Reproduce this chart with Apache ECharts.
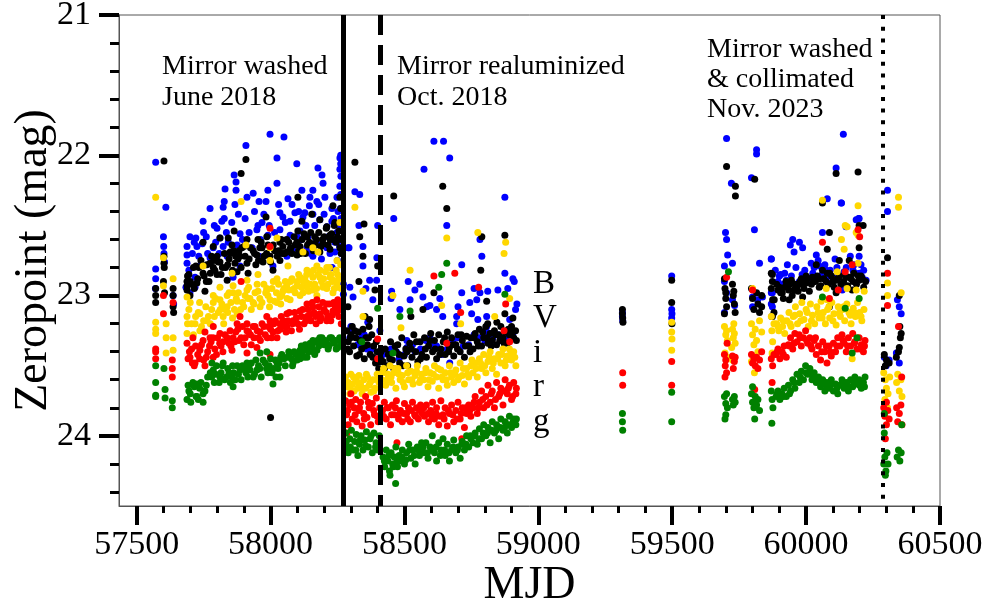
<!DOCTYPE html>
<html>
<head>
<meta charset="utf-8">
<script src="https://cdn.jsdelivr.net/npm/echarts@6/dist/echarts.min.js"></script>
<style>html,body{margin:0;padding:0;background:#fff;}#c{width:990px;height:607px;}</style>
</head>
<body>
<div id="c"></div>
<script>
// ---- Data: [MJD, zeropoint mag] per band ----
const bandNames = ['B', 'V', 'i', 'r', 'g'];
const xTicks = [57500, 58000, 58500, 59000, 59500, 60000, 60500];
const yTicks = [21, 22, 23, 24];
const eventMJD = [58270, 58408, 60286];
const notes = ['Mirror washed\nJune 2018', 'Mirror realuminized\nOct. 2018', 'Mirror washed\n& collimated\nNov. 2023'];

const dataB = [
[57571,22.05],[57571,22.81],[57571,22.88],[57570,22.95],[57600,22.58],[57601,22.65],[57602,22.7],[57609,22.37],[57604,22.76],[57636,23.0],[57638,23.06],
[57998,21.85],[58050,21.87],[57908,21.93],[58024,22.02],[58098,22.06],[58177,22.09],[58259,22.02],[57864,22.14],[58192,22.14],[57871,22.19],[58024,22.2],[58196,22.2],[58259,22.1],[57830,22.24],[57871,22.25],[57935,22.27],[57990,22.25],[58117,22.25],[58158,22.25],[58259,22.22],[57827,22.33],[57912,22.3],[57957,22.33],[57983,22.33],[58065,22.31],[58147,22.3],[58173,22.33],[58203,22.3],[58248,22.3],[57774,22.38],[57823,22.37],[57867,22.35],[58035,22.41],[58091,22.41],[58128,22.41],[58229,22.38],[57748,22.47],[57827,22.45],[57968,22.48],[58046,22.44],[58073,22.47],[58121,22.44],[58158,22.42],[58184,22.46],[58229,22.47],[57800,22.52],[57953,22.5],[58035,22.53],[58073,22.57],[58110,22.54],[58210,22.51],[57699,22.58],[57721,22.59],[57750,22.55],[57811,22.59],[57886,22.56],[57949,22.53],[57990,22.57],[58099,22.58],[58140,22.58],[58248,22.55],[57688,22.65],[57725,22.65],[57786,22.66],[57823,22.65],[57875,22.64],[57931,22.66],[58035,22.7],[58084,22.68],[58136,22.66],[58184,22.64],[58240,22.62],[57688,22.71],[57774,22.73],[57838,22.72],[57957,22.72],[58061,22.72],[58158,22.72],[58222,22.7],[57688,22.77],[57736,22.79],[57886,22.79],[58009,22.79],[57718,22.87],[57860,22.87],[57684,22.94],[57718,22.94],[57699,22.98],
[58262,22.0],[58262,22.06],[58263,22.15],[58262,22.28],[58261,22.38],[58263,22.45],[58260,22.52],[58262,22.6],[58264,22.7],[58258,22.65],[58240,22.69],[58250,22.75],[58210,22.66],[58170,22.62],[58100,22.63],[58150,22.7],[58190,22.74],[58230,22.8],[58290,22.66],[58272,22.92],[58272,22.99],
[58610,21.9],[58646,21.9],[58669,22.02],[58573,22.1],[58315,22.26],[58333,22.28],[58460,22.45],[58875,22.3],[58400,22.5],[58330,22.5],[58658,22.5],[58293,22.66],[58345,22.65],[58345,22.79],[58397,22.73],[58789,22.72],[58714,22.78],[58782,22.6],[58875,22.84],[58905,22.88],[58514,22.9],[58557,22.92],[58370,22.89],[58396,22.89],[58296,22.94],[58356,22.95],[58452,22.97],[58539,22.96],[58569,23.01],[58521,23.03],[58595,23.07],[58632,23.02],[58714,22.98],[58744,23.05],[58770,23.03],[58782,22.98],[58811,22.97],[58849,22.96],[58886,22.95],[58920,23.06],[58483,23.1],[58584,23.08],[58643,23.15],[58695,23.15],[58751,23.13],[58774,23.17],[58807,23.15],[58893,23.17],[58308,23.01],[58382,23.03],[58363,23.19],[58408,23.25],[58695,23.2],[58807,23.22],[58595,23.3],[58509,23.32],[58669,23.34],[58818,23.27],[58886,23.25],[58296,23.3],[58333,23.34],[58509,23.37],[58669,23.48],[58807,23.26],[58905,23.27],
[58420,23.42],[58450,23.38],[58480,23.45],[58540,23.4],[58600,23.36],[58640,23.42],[58700,23.3],[58740,23.35],[58760,23.28],[58830,23.3],[58860,23.32],[58300,23.22],[58350,23.28],[58380,23.38],[58910,22.9],[58915,23.1],
[59314,23.12],[59314,23.15],[59315,23.18],
[59498,22.86],[59498,23.1],[59499,23.13],[59498,23.16],
[59703,21.88],[59721,22.2],[59699,22.55],[59703,22.6],[59707,22.71],[59725,22.77],[59695,22.79],[59695,22.9],[59703,22.98],[59725,23.03],[59695,23.12],[59733,23.07],
[59815,21.96],[59815,21.99],[59796,22.16],[59807,22.53],[59826,22.77],[59870,22.74],[59800,23.01],[59819,23.03],[59837,23.01],[59870,23.06],[59800,23.08],[59870,22.98],
[60132,22.34],[60061,22.55],[60196,22.45],[59941,22.64],[59955,22.69],[59975,22.62],[59987,22.66],[59870,22.74],[60038,22.71],[60019,22.77],[60049,22.79],[60075,22.82],[60142,22.83],[60179,22.78],[60198,22.72],[60209,22.87],[59987,22.87],[59926,22.89],[59874,22.98],[60098,22.9],[60135,22.96],[60224,22.89],[59874,23.08],[60187,22.46],
[60139,21.85],[60112,22.09],[60079,22.31],[60131,22.34],[60198,22.45],[60149,22.51],
[59885,22.82],[59895,22.9],[59905,22.85],[59915,22.92],[59930,22.78],[59945,22.86],[59962,22.8],[59975,22.9],[59995,22.82],[60010,22.88],[60030,22.8],[60045,22.75],[60060,22.85],[60070,22.78],[60090,22.82],[60108,22.74],[60120,22.86],[60150,22.8],[60165,22.72],[60185,22.84],[60205,22.78],[60215,22.82],[59950,22.6],
[60304,22.25],[60304,22.4],[60341,23.03],[60348,23.08],[60355,23.13],[60292,23.44],[60310,23.46],[60337,23.41],[60348,23.48],[60299,23.5]
];
const dataB2 = [
[57695,22.82],[57708,22.7],[57715,22.62],[57732,22.72],[57745,22.63],[57760,22.58],[57765,22.7],[57790,22.5],[57795,22.62],[57808,22.7],[57818,22.47],[57835,22.55],[57842,22.62],[57855,22.48],[57880,22.42],[57895,22.6],[57905,22.45],[57920,22.55],[57940,22.4],[57962,22.6],[57975,22.42],[57995,22.5],[58015,22.55],[58030,22.35],[58055,22.48],[58080,22.35],[58105,22.4],[58115,22.6],[58132,22.5],[58145,22.36],[58165,22.5],[58180,22.35],[58200,22.42],[58215,22.58],[58235,22.45],[58252,22.4],
[58305,23.25],[58325,23.35],[58340,23.3],[58360,23.38],[58400,23.45],[58430,23.4],[58470,23.4],[58500,23.42],[58530,23.35],[58560,23.38],[58580,23.32],[58620,23.36],[58660,23.38],[58680,23.33],[58720,23.36],[58780,23.3],[58800,23.32],[58850,23.28],[58880,23.3],[58450,23.02],[58620,23.1],[58700,23.08],[58760,22.95],
[59900,22.86],[59920,22.84],[59985,22.85],[60025,22.84],[60080,22.86],[60115,22.8],[60140,22.84],[60175,22.82],[60200,22.84]
];

const dataV = [
[57602,22.04],[57602,22.72],[57602,22.77],[57603,22.8],[57571,22.95],[57571,23.0],[57571,23.05],[57600,22.9],[57636,22.95],[57636,23.0],[57636,23.08],[57638,23.12],[57604,22.98],
[57908,22.03],[57890,22.13],[58102,22.3],[58233,22.36],[58259,22.3],[57983,22.44],[57864,22.54],[58117,22.47],[58154,22.42],[58184,22.46],[58102,22.54],[58210,22.51],[58240,22.48],[57811,22.59],[57842,22.59],[57912,22.6],[57953,22.6],[57986,22.58],[58035,22.62],[58136,22.58],[58165,22.58],[58222,22.57],[58251,22.59],[57748,22.62],[57786,22.65],[57856,22.64],[57893,22.66],[57968,22.66],[58046,22.65],[58073,22.67],[58110,22.65],[58154,22.63],[58196,22.63],[58233,22.6],[57800,22.72],[57849,22.69],[57886,22.72],[57949,22.71],[57998,22.72],[58061,22.69],[58099,22.71],[58184,22.69],[58222,22.67],[58259,22.66],[57774,22.77],[57811,22.76],[57867,22.77],[57912,22.77],[57972,22.76],[58035,22.75],[57721,22.79],[57786,22.8],[57875,22.83],[57916,22.84],[58009,22.82],[57748,22.84],[57688,22.9],[57800,22.85],[57838,22.89],[57688,22.96],[57725,22.91],[57755,22.97],[57699,23.0],[57688,22.93],[58000,23.87],
[57695,22.85],[57705,22.92],[57712,22.8],[57728,22.88],[57740,22.75],[57752,22.86],[57762,22.78],[57770,22.9],[57780,22.72],[57792,22.82],[57805,22.76],[57815,22.85],[57828,22.7],[57832,22.8],[57845,22.74],[57858,22.82],[57862,22.68],[57878,22.74],[57890,22.8],[57900,22.65],[57920,22.74],[57935,22.68],[57945,22.78],[57960,22.66],[57975,22.72],[57990,22.64],[58000,22.76],[58015,22.68],[58025,22.72],[58040,22.6],[58052,22.7],[58068,22.62],[58080,22.7],[58092,22.64],[58105,22.68],[58118,22.6],[58130,22.7],[58145,22.62],[58160,22.68],[58172,22.6],[58188,22.65],[58200,22.58],[58215,22.64],[58228,22.56],[58245,22.62],[58255,22.54],[58262,22.48],[58262,22.38],[58263,22.6],[58264,22.7],
[58315,22.05],[58460,22.29],[58643,22.22],[58658,22.38],[58349,22.49],[58333,22.58],[58789,22.58],[58875,22.57],[58345,22.72],[58400,22.79],[58785,22.82],[58330,22.9],[58610,22.98],[58390,22.96],[58807,23.04],[58569,23.1],[58875,23.13],[58289,23.08],[58353,23.15],[58370,23.17],[58524,23.15],[58811,23.2],[58845,23.19],[58905,23.16],
[58285,23.25],[58290,23.33],[58295,23.4],[58300,23.28],[58305,23.22],[58310,23.36],[58318,23.3],[58322,23.43],[58328,23.26],[58335,23.32],[58340,23.38],[58345,23.24],[58350,23.45],[58356,23.3],[58362,23.35],[58368,23.22],[58372,23.42],[58378,23.28],[58385,23.36],[58392,23.48],[58398,23.4],[58404,23.52],[58410,23.45],
[58415,23.55],[58420,23.47],[58428,23.38],[58435,23.5],[58440,23.42],[58448,23.33],[58455,23.46],[58460,23.52],[58468,23.4],[58475,23.35],[58482,23.48],[58490,23.3],[58498,23.43],[58505,23.38],[58512,23.5],[58520,23.34],[58528,23.44],[58535,23.28],[58542,23.4],[58550,23.47],[58558,23.33],[58565,23.42],
[58575,23.3],[58582,23.44],[58590,23.36],[58598,23.27],[58605,23.4],[58612,23.32],[58620,23.45],[58628,23.28],[58636,23.38],[58645,23.33],[58652,23.42],[58660,23.26],[58668,23.37],[58676,23.3],[58684,23.43],[58692,23.35],[58700,23.28],[58708,23.4],[58716,23.32],[58724,23.44],[58732,23.29],[58740,23.36],[58748,23.3],
[58756,23.38],[58764,23.27],[58772,23.33],[58780,23.24],[58788,23.36],[58796,23.3],[58804,23.22],[58812,23.34],[58820,23.27],[58828,23.32],[58836,23.25],[58844,23.35],[58852,23.28],[58860,23.22],[58868,23.3],[58876,23.26],[58884,23.34],[58892,23.28],[58900,23.22],[58908,23.3],[58915,23.25],
[59314,23.1],[59314,23.13],[59315,23.16],[59316,23.19],
[59498,22.89],[59498,23.05],[59499,23.2],
[59703,22.08],[59736,22.22],[59736,22.29],[59695,22.88],[59697,22.95],[59700,23.02],[59703,23.08],[59695,23.13],[59725,22.92],[59728,23.0],[59732,23.06],[59735,23.12],[59700,22.98],[59730,22.97],
[59808,22.17],[59796,22.95],[59800,23.02],[59805,23.1],[59815,22.98],[59820,23.06],[59826,23.12],[59834,23.0],[59834,23.08],[59870,22.84],[59870,22.95],[59875,23.03],[59880,23.12],[59872,23.15],
[60087,22.55],[60079,22.67],[60213,22.5],[60198,22.66],[60124,22.75],[60161,22.75],[59874,22.85],[60038,22.78],[60061,22.82],[59900,22.94],[59945,22.89],[59982,22.88],[60000,22.91],[60023,22.87],[60079,22.84],[60112,22.89],[60161,22.87],[60198,22.89],[59911,22.98],[59955,22.96],[59987,23.01],[60049,22.94],[60112,22.98],[60172,22.96],[59937,23.03],[60087,23.08],[59874,22.9],[59881,23.03],[59874,23.15],
[60112,22.13],[60194,22.12],[60061,22.34],[60198,22.5],
[59890,22.92],[59905,22.98],[59915,23.02],[59925,22.9],[59935,22.96],[59948,23.0],[59960,22.92],[59970,22.97],[59978,22.9],[59992,22.95],[60005,22.88],[60012,22.97],[60028,22.9],[60042,22.86],[60055,22.93],[60066,22.88],[60083,22.92],[60095,22.86],[60105,22.94],[60118,22.88],[60130,22.92],[60145,22.85],[60155,22.93],[60168,22.88],[60178,22.84],[60188,22.92],[60205,22.86],[60215,22.94],[60222,22.9],
[60304,22.73],[60348,23.0],[60350,23.22],[60352,23.3],[60348,23.37],[60292,23.42],[60300,23.46],[60310,23.48],[60337,23.44],[60345,23.4],[60355,23.27],[60296,23.5]
];
const dataV2 = [
[57690,22.86],[57700,22.9],[57715,22.95],[57732,22.8],[57760,22.9],[57775,22.84],[57788,22.75],[57820,22.8],[57840,22.78],[57850,22.7],[57870,22.72],[57882,22.68],[57905,22.72],[57925,22.66],[57940,22.7],[57955,22.75],[57965,22.62],[57985,22.7],[58010,22.64],[58030,22.68],[58045,22.7],[58060,22.6],[58075,22.66],[58088,22.58],[58098,22.62],[58112,22.7],[58125,22.56],[58138,22.64],[58150,22.55],[58168,22.64],[58180,22.55],[58195,22.6],[58208,22.52],[58222,22.6],[58238,22.5],[58250,22.58],
[58288,23.38],[58298,23.3],[58315,23.25],[58332,23.42],[58352,23.36],[58366,23.3],[58382,23.44],[58395,23.33],[58412,23.4],[58425,23.52],[58445,23.45],[58465,23.36],[58480,23.42],[58495,23.5],[58510,23.4],[58525,23.38],[58545,23.33],[58560,23.45],[58578,23.38],[58595,23.32],[58615,23.38],[58632,23.42],[58650,23.3],[58665,23.4],[58680,23.35],[58698,23.38],[58712,23.28],[58728,23.36],[58745,23.4],[58760,23.3],[58776,23.36],[58792,23.26],[58808,23.3],[58824,23.36],[58840,23.28],[58856,23.32],[58872,23.34],[58888,23.24],[58904,23.26],[58918,23.32],
[59895,22.96],[59920,22.94],[59940,22.92],[59965,22.94],[59985,22.92],[60000,22.86],[60020,22.92],[60035,22.9],[60050,22.88],[60075,22.9],[60088,22.84],[60100,22.9],[60125,22.86],[60140,22.9],[60150,22.87],[60175,22.9],[60195,22.86],[60210,22.88]
];

const dataI = [
[57571,22.3],[57600,22.73],[57600,22.93],[57571,23.19],[57571,23.27],[57610,23.2],[57610,23.3],[57610,23.41],[57636,22.88],[57636,23.39],[57636,23.3],[57571,23.24],
[57890,22.33],[58024,22.59],[57998,22.66],[57908,22.64],[58259,22.48],[57748,22.79],[58121,22.69],[58158,22.66],[58177,22.69],[57998,22.75],[57856,22.84],[57953,22.85],[58024,22.88],[58065,22.79],[58136,22.82],[58173,22.79],[58210,22.8],[58248,22.75],[58110,22.87],[58158,22.87],[58222,22.87],[57811,22.94],[57860,22.93],[57912,22.89],[57986,22.96],[58061,22.93],[58084,22.96],[58136,22.94],[58196,22.94],[58248,22.91],[57786,23.0],[57838,23.0],[57953,22.97],[58035,23.01],[58173,23.0],[58233,22.98],[57688,23.01],
[57688,23.15],[57688,23.27],[57718,23.2],[57736,23.13],[57786,23.05],[57811,23.03],[57838,23.08],[57860,22.98],[57875,23.04],[57912,22.96],[57923,23.02],[57961,23.08],[57986,22.95],[57998,23.03],[58024,23.05],[58046,22.97],[58073,23.03],[58099,22.93],[58121,22.98],[58136,22.91],[58158,22.96],[58184,22.87],[58196,22.93],[58233,22.89],[58251,22.94],[57736,23.25],[57762,23.18],[57823,23.15],[57875,23.13],[57935,23.05],[58035,23.2],
[57695,23.1],[57705,23.2],[57712,23.28],[57730,23.12],[57742,23.22],[57758,23.08],[57768,23.15],[57780,23.1],[57795,23.02],[57805,23.12],[57818,23.06],[57830,23.1],[57845,22.98],[57852,23.05],[57865,23.1],[57880,22.98],[57895,23.05],[57905,23.0],[57918,22.94],[57928,23.1],[57942,22.98],[57960,23.02],[57975,22.92],[57990,23.0],[58005,22.95],[58015,23.04],[58030,22.92],[58042,23.0],[58055,22.9],[58068,22.96],[58080,22.88],[58092,22.98],[58105,22.85],[58115,22.94],[58128,22.88],[58142,22.97],[58150,22.84],[58165,22.92],[58178,22.85],[58190,22.9],[58205,22.83],[58215,22.92],[58225,22.85],[58238,22.95],[58245,22.82],[58255,22.88],[58262,22.78],[58264,22.95],[58263,23.05],
[58315,22.37],[58658,22.59],[58774,22.55],[58878,22.62],[58872,22.7],[58521,22.82],[58345,22.97],[58457,23.0],[58639,23.07],[58345,23.15],[58710,23.2],[58487,23.23],[58893,23.02],[58837,23.15],
[58280,23.58],[58285,23.65],[58290,23.62],[58296,23.7],[58300,23.56],[58306,23.63],[58312,23.68],[58318,23.6],[58325,23.66],[58330,23.57],[58336,23.63],[58342,23.7],[58348,23.6],[58355,23.66],[58362,23.58],[58368,23.64],[58375,23.69],[58382,23.6],[58390,23.66],[58398,23.56],[58405,23.62],
[58415,23.6],[58422,23.52],[58430,23.64],[58438,23.56],[58446,23.5],[58452,23.62],[58460,23.55],[58468,23.66],[58476,23.52],[58484,23.6],[58492,23.57],[58500,23.65],[58508,23.5],[58516,23.6],[58524,23.54],[58532,23.63],[58540,23.57],[58548,23.5],[58556,23.62],[58564,23.56],
[58572,23.6],[58580,23.52],[58588,23.65],[58596,23.55],[58604,23.61],[58612,23.5],[58620,23.58],[58628,23.66],[58636,23.53],[58644,23.6],[58652,23.55],[58660,23.64],[58668,23.5],[58676,23.58],[58684,23.62],[58692,23.53],[58700,23.6],[58708,23.48],[58716,23.57],[58724,23.63],[58732,23.52],[58740,23.58],[58748,23.5],
[58756,23.55],[58764,23.48],[58772,23.58],[58780,23.45],[58788,23.52],[58796,23.42],[58804,23.55],[58812,23.47],[58820,23.4],[58828,23.52],[58836,23.45],[58844,23.56],[58852,23.42],[58860,23.48],[58868,23.38],[58876,23.5],[58884,23.43],[58892,23.38],[58900,23.46],[58908,23.4],[58916,23.5],
[59498,23.19],[59498,23.26],[59499,23.31],[59498,23.39],
[59695,23.22],[59700,23.28],[59703,23.25],[59706,23.32],[59725,23.24],[59728,23.3],[59732,23.27],[59735,23.34],[59697,23.41],[59730,23.2],[59722,23.37],[59725,23.46],[59705,23.44],
[59796,23.2],[59800,23.28],[59805,23.35],[59810,23.24],[59815,23.32],[59820,23.4],[59826,23.18],[59834,23.26],[59870,23.15],[59872,23.25],[59875,23.33],[59880,23.2],[59800,22.95],[59796,23.47],[59807,23.55],[59873,23.41],
[60061,22.32],[60194,22.36],[60146,22.5],[60187,22.55],[60153,22.51],[60194,22.57],[60132,22.6],[60142,22.67],[60194,22.77],[60116,22.83],[60075,22.95],[60153,22.95],[60187,22.96],[60217,22.97],[60079,23.03],[59987,23.3],[60172,23.45],[59874,23.42],
[59890,23.2],[59898,23.25],[59905,23.16],[59912,23.22],[59920,23.27],[59928,23.18],[59936,23.12],[59944,23.22],[59952,23.15],[59960,23.08],[59968,23.2],[59976,23.13],[59984,23.05],[59992,23.17],[60000,23.1],[60008,23.22],[60016,23.06],[60024,23.14],[60032,23.2],[60040,23.08],[60048,23.16],[60056,23.04],[60064,23.12],[60072,23.2],[60080,23.1],[60088,23.16],[60096,23.05],[60104,23.13],[60112,23.21],[60120,23.08],[60128,23.15],[60136,23.1],[60144,23.18],[60152,23.06],[60160,23.12],[60168,23.2],[60176,23.09],[60184,23.15],[60192,23.05],[60200,23.12],[60208,23.18],[60216,23.1],
[60345,22.3],[60345,22.37],[60304,22.91],[60304,23.0],[60355,22.98],[60290,23.55],[60296,23.6],[60300,23.66],[60306,23.7],[60312,23.58],[60338,23.62],[60342,23.56],[60348,23.68],[60354,23.6],[60358,23.72],[60294,23.74],[60304,23.8]
];
const dataI2 = [
[57690,23.2],[57700,23.05],[57720,23.15],[57735,23.05],[57750,23.18],[57775,23.2],[57790,23.15],[57812,23.1],[57825,23.2],[57840,23.12],[57858,23.16],[57872,23.02],[57888,23.1],[57900,23.08],[57915,23.02],[57938,23.06],[57950,22.92],[57968,23.05],[57982,22.98],[57996,23.08],[58010,22.9],[58022,22.98],[58038,23.06],[58050,22.95],[58062,23.02],[58075,22.9],[58088,22.95],[58100,22.9],[58110,23.0],[58122,22.9],[58135,22.85],[58148,22.92],[58160,22.82],[58172,22.95],[58185,22.82],[58198,22.88],[58210,22.95],[58220,22.8],[58232,22.9],[58250,22.85],
[58283,23.62],[58298,23.66],[58310,23.58],[58328,23.62],[58345,23.66],[58358,23.56],[58372,23.62],[58386,23.68],[58400,23.6],[58418,23.55],[58435,23.6],[58450,23.58],[58464,23.52],[58480,23.56],[58495,23.62],[58512,23.55],[58528,23.6],[58545,23.54],[58560,23.6],[58578,23.55],[58592,23.6],[58608,23.56],[58625,23.52],[58640,23.58],[58656,23.6],[58672,23.55],[58688,23.56],[58704,23.58],[58720,23.52],[58736,23.56],[58752,23.46],[58768,23.52],[58784,23.48],[58800,23.5],[58816,23.44],[58832,23.48],[58848,23.45],[58864,23.42],[58880,23.46],[58896,23.42],[58912,23.44],
[59895,23.22],[59915,23.18],[59940,23.2],[59958,23.14],[59980,23.18],[60004,23.12],[60020,23.18],[60045,23.12],[60060,23.16],[60085,23.08],[60100,23.18],[60125,23.12],[60140,23.08],[60165,23.14],[60180,23.12],[60205,23.15]
];

const dataR = [
[57571,23.38],[57571,23.45],[57600,23.0],[57633,23.46],[57633,23.52],[57633,23.58],[57636,23.05],[57600,23.13],[57571,23.4],
[57998,22.52],[57998,22.65],[57890,22.9],
[57688,23.34],[57699,23.44],[57718,23.48],[57736,23.39],[57755,23.5],[57774,23.3],[57786,23.22],[57811,23.27],[57823,23.33],[57849,23.25],[57856,23.39],[57875,23.2],[57886,23.15],[57912,23.25],[57935,23.22],[57961,23.26],[57998,23.18],[58009,23.26],[58035,23.2],[58061,23.13],[58084,23.18],[58110,23.11],[58136,23.15],[58158,23.08],[58173,23.03],[58184,23.13],[58210,23.06],[58233,23.11],[58251,23.03],[58210,23.18],[58136,23.06],[58061,23.22],[57986,23.15],[57949,23.37],[57998,23.42],[57912,23.41],[57786,23.44],[57710,23.3],[57755,23.26],
[57692,23.45],[57705,23.38],[57715,23.5],[57728,23.42],[57742,23.35],[57750,23.46],[57765,23.4],[57778,23.33],[57792,23.38],[57802,23.3],[57815,23.36],[57830,23.28],[57845,23.34],[57860,23.3],[57870,23.26],[57882,23.32],[57895,23.22],[57905,23.3],[57918,23.26],[57928,23.35],[57942,23.22],[57955,23.3],[57968,23.2],[57980,23.28],[57992,23.22],[58004,23.3],[58018,23.18],[58028,23.25],[58040,23.15],[58052,23.22],[58065,23.18],[58078,23.25],[58090,23.12],[58102,23.2],[58115,23.15],[58125,23.2],[58140,23.1],[58150,23.18],[58162,23.12],[58170,23.2],[58180,23.08],[58190,23.16],[58200,23.1],[58215,23.15],[58220,23.06],[58230,23.14],[58242,23.08],[58255,23.15],[58262,23.1],[58264,23.2],
[58280,23.75],[58284,23.85],[58290,23.92],[58295,23.78],[58300,23.7],[58305,23.88],[58312,23.8],[58318,23.74],[58322,23.9],[58330,23.82],[58336,23.76],[58342,23.93],[58348,23.84],[58355,23.72],[58360,23.87],[58368,23.8],[58374,23.92],[58380,23.77],[58388,23.85],[58395,23.73],[58402,23.9],[58408,23.8],
[58418,23.82],[58425,23.76],[58432,23.88],[58440,23.8],[58448,23.92],[58455,23.78],[58462,23.85],[58470,23.75],[58478,23.88],[58485,23.82],[58492,23.9],[58500,23.77],[58508,23.84],[58515,23.8],[58522,23.9],[58530,23.76],[58538,23.85],[58545,23.8],[58552,23.88],[58560,23.78],[58566,23.84],
[58575,23.86],[58582,23.78],[58590,23.9],[58598,23.82],[58605,23.76],[58612,23.88],[58620,23.8],[58628,23.92],[58636,23.75],[58644,23.85],[58652,23.8],[58660,23.93],[58668,23.84],[58676,23.78],[58684,23.9],[58692,23.82],[58700,23.76],[58708,23.88],[58716,23.8],[58724,23.94],[58732,23.84],[58740,23.78],[58748,23.86],
[58756,23.8],[58764,23.72],[58772,23.84],[58780,23.76],[58788,23.68],[58796,23.8],[58804,23.72],[58812,23.64],[58820,23.76],[58828,23.68],[58836,23.8],[58844,23.62],[58852,23.72],[58860,23.66],[58868,23.78],[58876,23.6],[58884,23.7],[58892,23.64],[58900,23.74],[58908,23.62],[58916,23.7],
[58610,22.86],[58688,22.84],[58777,22.94],[58878,23.06],[58710,23.12],[58400,23.31],[58658,23.34],[58872,23.25],[58893,23.33],[58400,23.45],[58285,23.98],[58472,24.05],[58714,24.02],
[59315,23.55],[59315,23.64],
[59498,23.47],[59498,23.64],
[59703,22.87],[59695,23.42],[59698,23.5],[59700,23.46],[59703,23.55],[59725,23.43],[59728,23.52],[59732,23.47],[59735,23.44],[59697,23.58],[59705,23.34],
[59796,23.42],[59800,23.48],[59805,23.45],[59810,23.5],[59815,23.44],[59820,23.52],[59826,23.46],[59834,23.4],[59870,23.45],[59875,23.5],[59880,23.42],[59873,23.62],[59808,23.67],[59800,22.96],
[60061,22.62],[60194,22.53],[60172,22.78],[60146,22.83],[60087,23.02],[60200,22.58],[60120,22.96],
[59888,23.42],[59895,23.38],[59902,23.45],[59910,23.4],[59918,23.36],[59926,23.44],[59934,23.35],[59942,23.3],[59950,23.38],[59958,23.27],[59966,23.33],[59974,23.28],[59982,23.36],[59990,23.3],[59998,23.25],[60006,23.34],[60014,23.3],[60022,23.38],[60030,23.32],[60038,23.42],[60046,23.36],[60054,23.46],[60062,23.33],[60070,23.4],[60078,23.48],[60086,23.36],[60094,23.43],[60102,23.34],[60110,23.4],[60118,23.3],[60126,23.36],[60134,23.28],[60142,23.34],[60150,23.4],[60158,23.3],[60166,23.36],[60174,23.27],[60182,23.33],[60190,23.38],[60198,23.3],[60206,23.35],[60214,23.4],[60220,23.32],
[60304,22.84],[60304,23.07],[60345,23.22],[60357,23.58],[60290,23.8],[60294,23.86],[60300,23.92],[60305,23.82],[60310,23.88],[60338,23.8],[60342,23.9],[60348,23.84],[60354,23.78],[60358,23.92],[60296,24.02],[60300,23.76]
];
const dataR2 = [
[57697,23.4],[57708,23.48],[57720,23.36],[57735,23.45],[57748,23.32],[57760,23.44],[57772,23.36],[57785,23.3],[57798,23.42],[57810,23.34],[57822,23.4],[57838,23.3],[57852,23.36],[57866,23.33],[57878,23.24],[57890,23.3],[57900,23.35],[57912,23.2],[57925,23.28],[57938,23.3],[57950,23.25],[57962,23.32],[57975,23.22],[57988,23.3],[58000,23.24],[58012,23.2],[58024,23.3],[58036,23.24],[58048,23.18],[58058,23.26],[58070,23.12],[58082,23.2],[58096,23.16],[58108,23.24],[58120,23.1],[58132,23.18],[58145,23.14],[58156,23.05],[58168,23.15],[58185,23.18],[58195,23.05],[58208,23.12],[58225,23.18],[58236,23.05],[58248,23.12],[58258,23.06],
[58288,23.82],[58302,23.76],[58316,23.85],[58332,23.8],[58350,23.88],[58365,23.76],[58385,23.82],[58398,23.86],[58422,23.86],[58436,23.8],[58452,23.85],[58466,23.8],[58482,23.84],[58498,23.84],[58512,23.88],[58526,23.82],[58542,23.86],[58556,23.82],[58572,23.8],[58588,23.84],[58602,23.86],[58618,23.84],[58632,23.86],[58648,23.88],[58664,23.82],[58680,23.85],[58696,23.88],[58712,23.84],[58728,23.8],[58744,23.82],[58760,23.76],[58776,23.8],[58792,23.74],[58808,23.78],[58824,23.7],[58840,23.74],[58856,23.7],[58872,23.68],[58888,23.66],[58904,23.72],[58918,23.66],
[59892,23.4],[59915,23.42],[59938,23.36],[59955,23.34],[59978,23.3],[60002,23.32],[60018,23.36],[60035,23.3],[60058,23.4],[60075,23.36],[60090,23.4],[60115,23.36],[60138,23.32],[60155,23.36],[60180,23.34],[60202,23.38],[60218,23.36]
];

const dataG = [
[57571,23.62],[57571,23.72],[57606,23.73],[57633,23.8],[57602,23.52],[57633,23.75],[57606,23.67],[57571,23.5],[57571,23.71],
[57688,23.74],[57692,23.64],[57725,23.63],[57748,23.7],[57725,23.72],[57781,23.48],[57786,23.53],[57811,23.58],[57823,23.48],[57856,23.58],[57860,23.65],[57886,23.53],[57912,23.48],[57923,23.53],[57949,23.53],[57961,23.41],[57998,23.53],[58009,23.63],[58024,23.48],[58046,23.44],[58073,23.41],[58084,23.48],[58110,23.39],[58136,23.44],[58158,23.32],[58184,23.3],[58210,23.34],[58233,23.32],[58251,23.37],[58173,23.39],[58099,23.46],[58035,23.58],[57986,23.4],
[57695,23.68],[57702,23.76],[57715,23.65],[57730,23.74],[57740,23.62],[57755,23.68],[57765,23.58],[57775,23.55],[57790,23.62],[57798,23.5],[57815,23.55],[57828,23.6],[57840,23.52],[57850,23.62],[57862,23.55],[57875,23.5],[57890,23.6],[57900,23.52],[57915,23.58],[57928,23.48],[57940,23.56],[57955,23.5],[57965,23.58],[57980,23.48],[57990,23.55],[58000,23.45],[58012,23.52],[58020,23.58],[58032,23.48],[58042,23.42],[58055,23.5],[58062,23.44],[58078,23.45],[58088,23.4],[58105,23.42],[58115,23.36],[58125,23.44],[58135,23.38],[58148,23.34],[58160,23.4],[58168,23.33],[58180,23.36],[58192,23.3],[58200,23.35],[58215,23.38],[58222,23.3],[58238,23.34],[58245,23.38],[58255,23.32],[58262,23.36],
[58280,23.98],[58285,24.08],[58290,24.12],[58296,24.02],[58302,23.96],[58308,24.1],[58314,24.04],[58320,23.99],[58326,24.14],[58332,24.06],[58338,24.0],[58345,24.1],[58352,24.03],[58358,23.97],[58365,24.08],[58372,24.02],[58380,24.12],[58386,23.98],[58394,24.05],[58400,24.1],[58406,24.0],
[58420,24.15],[58426,24.22],[58432,24.1],[58438,24.18],[58444,24.25],[58450,24.12],[58456,24.2],[58462,24.15],[58468,24.08],[58474,24.22],[58480,24.14],[58486,24.18],[58492,24.1],[58500,24.2],[58508,24.12],[58516,24.06],[58524,24.16],[58532,24.1],[58540,24.2],[58548,24.08],[58556,24.14],[58564,24.05],[58467,24.34],[58446,24.28],
[58572,24.12],[58580,24.05],[58588,24.16],[58596,24.08],[58604,24.0],[58612,24.12],[58620,24.18],[58628,24.05],[58636,24.1],[58644,24.02],[58652,24.14],[58660,24.06],[58668,24.18],[58676,24.1],[58684,24.03],[58692,24.12],[58700,24.08],[58708,24.16],[58716,24.04],[58724,24.1],[58732,24.0],[58740,24.08],[58748,24.02],
[58756,24.05],[58764,23.98],[58772,24.06],[58780,23.95],[58788,24.02],[58796,23.92],[58804,24.0],[58812,23.94],[58820,24.05],[58828,23.9],[58836,23.98],[58844,23.92],[58852,24.02],[58860,23.88],[58868,23.96],[58876,23.9],[58884,23.98],[58892,23.86],[58900,23.94],[58908,23.88],[58916,23.92],
[58658,22.77],[58639,22.85],[58628,22.94],[58875,22.99],[58483,23.15],[58521,23.11],[58400,23.09],[58457,23.41],[58341,23.33],
[59314,23.84],[59314,23.9],[59315,23.96],
[59498,23.69],[59498,23.9],
[59710,22.83],[59695,23.72],[59700,23.77],[59703,23.7],[59706,23.8],[59725,23.74],[59728,23.78],[59732,23.72],[59735,23.76],[59697,23.88],[59700,23.85],
[59796,23.7],[59800,23.76],[59805,23.8],[59810,23.72],[59815,23.78],[59820,23.74],[59826,23.82],[59808,23.88],[59870,23.68],[59873,23.74],[59876,23.8],[59872,23.91],[59800,23.65],
[59888,23.72],[59895,23.68],[59902,23.74],[59910,23.7],[59918,23.66],[59926,23.72],[59934,23.64],[59942,23.68],[59950,23.6],[59958,23.66],[59966,23.56],[59974,23.62],[59982,23.54],[59990,23.6],[59998,23.5],[60006,23.56],[60014,23.52],[60022,23.6],[60030,23.55],[60038,23.62],[60046,23.58],[60054,23.65],[60062,23.6],[60070,23.68],[60078,23.62],[60086,23.66],[60094,23.6],[60102,23.68],[60110,23.63],[60118,23.7],[60126,23.64],[60134,23.6],[60142,23.66],[60150,23.62],[60158,23.68],[60166,23.6],[60174,23.65],[60182,23.58],[60190,23.63],[60198,23.6],[60206,23.66],[60214,23.62],[60220,23.58],
[60198,23.02],[60061,23.01],[60146,23.09],[60172,23.41],[60190,23.3],
[60292,23.98],[60290,24.2],[60294,24.15],[60298,24.25],[60302,24.12],[60306,24.2],[60340,24.15],[60345,24.1],[60350,24.18],[60355,24.12],[60296,24.28],[60357,23.92],[60292,23.84]
];
const dataG2 = [
[57700,23.7],[57710,23.62],[57722,23.72],[57735,23.66],[57748,23.76],[57760,23.64],[57780,23.58],[57795,23.56],[57808,23.62],[57820,23.5],[57835,23.58],[57845,23.55],[57858,23.5],[57868,23.6],[57880,23.56],[57895,23.5],[57908,23.55],[57920,23.5],[57935,23.58],[57945,23.46],[57960,23.52],[57972,23.46],[57985,23.52],[57995,23.5],[58005,23.55],[58018,23.46],[58028,23.52],[58038,23.44],[58050,23.45],[58068,23.4],[58082,23.5],[58095,23.42],[58110,23.45],[58120,23.4],[58130,23.35],[58142,23.4],[58155,23.36],[58165,23.42],[58175,23.32],[58188,23.34],[58205,23.32],[58218,23.36],[58228,23.3],[58242,23.32],[58258,23.3],
[58283,24.04],[58298,24.08],[58318,24.1],[58335,24.03],[58355,24.07],[58375,24.0],[58392,24.08],[58425,24.18],[58442,24.14],[58458,24.22],[58472,24.18],[58490,24.15],[58505,24.17],[58520,24.1],[58536,24.14],[58552,24.1],[58570,24.08],[58586,24.12],[58602,24.1],[58618,24.08],[58634,24.14],[58650,24.1],[58666,24.12],[58682,24.08],[58698,24.1],[58714,24.06],[58730,24.06],[58746,24.0],[58762,24.0],[58778,24.02],[58794,23.98],[58810,23.98],[58826,23.96],[58842,23.96],[58858,23.94],[58874,23.94],[58890,23.92],[58906,23.9],[58918,23.88],
[59892,23.7],[59915,23.72],[59938,23.7],[59955,23.62],[59978,23.58],[60000,23.55],[60018,23.56],[60035,23.58],[60058,23.62],[60075,23.64],[60090,23.64],[60115,23.66],[60138,23.63],[60155,23.64],[60178,23.62],[60200,23.64],[60218,23.65]
];

const bandData = [dataB.concat(dataB2), dataV.concat(dataV2), dataI.concat(dataI2), dataR.concat(dataR2), dataG.concat(dataG2)];
const bandColors = ['#0000ff', '#000000', '#ffd700', '#ff0000', '#008000'];

// minor tick positions
const xMinor = [];
for (let v = 57500; v <= 60500; v += 100) if (v % 500 !== 0) xMinor.push(v);
const yMinor = [];
for (let k = 105; k <= 122; k++) { const v = k / 5; if (Math.abs(v - Math.round(v)) > 1e-6) yMinor.push(+v.toFixed(1)); }

const FONT = '"Liberation Serif", "Times New Roman", serif';
const chart = echarts.init(document.getElementById('c'), null, { renderer: 'canvas' });

const series = bandNames.map((n, k) => ({
  name: n, type: 'scatter', data: bandData[k], symbol: 'circle', symbolSize: 7,
  itemStyle: { color: bandColors[k], opacity: 1 }, xAxisIndex: 0, yAxisIndex: 0,
  animation: false, silent: true
}));
series.push({
  type: 'scatter', data: [], xAxisIndex: 0, yAxisIndex: 0, silent: true, z: 5,
  markLine: {
    symbol: ['none', 'none'], silent: true, animation: false, label: { show: false },
    data: [
      { xAxis: eventMJD[0], lineStyle: { color: '#000', width: 5, type: 'solid' } },
      { xAxis: eventMJD[1], lineStyle: { color: '#000', width: 5, type: [20, 10] } },
      { xAxis: eventMJD[2], lineStyle: { color: '#000', width: 4, type: [4, 7.7] } }
    ]
  }
});

const plain = v => String(v);
const xMin = 57434, xMax = 60500;
chart.setOption({
  animation: false,
  backgroundColor: '#fff',
  grid: { left: 119, right: 50, top: 15, bottom: 101, show: true, borderColor: '#555', borderWidth: 1, containLabel: false, outerBoundsMode: 'none' },
  xAxis: [
    { type: 'value', min: xMin, max: xMax, position: 'bottom',
      axisLine: { show: true, onZero: false, lineStyle: { color: '#555', width: 1 } },
      axisTick: { show: true, inside: false, customValues: xTicks, length: 19, lineStyle: { color: '#000', width: 4 } },
      axisLabel: { show: true, customValues: xTicks, formatter: plain, margin: 22, fontSize: 34, fontFamily: FONT, color: '#000' },
      splitLine: { show: false },
      name: 'MJD', nameLocation: 'middle', nameGap: 57, nameMoveOverlap: false,
      nameTextStyle: { fontSize: 46, fontFamily: FONT, color: '#000' } },
    { type: 'value', min: xMin, max: xMax, position: 'bottom',
      axisLine: { show: false, onZero: false },
      axisTick: { show: true, inside: false, customValues: xMinor, length: 7, lineStyle: { color: '#000', width: 3 } },
      axisLabel: { show: false }, splitLine: { show: false } }
  ],
  yAxis: [
    { type: 'value', min: 21, max: 24.5, inverse: true, position: 'left',
      axisLine: { show: true, onZero: false, lineStyle: { color: '#555', width: 1 } },
      axisTick: { show: true, inside: false, customValues: yTicks, length: 20, lineStyle: { color: '#000', width: 4 } },
      axisLabel: { show: true, customValues: yTicks, formatter: plain, margin: 28, fontSize: 34, fontFamily: FONT, color: '#000' },
      splitLine: { show: false },
      name: 'Zeropoint (mag)', nameLocation: 'middle', nameGap: 62, nameMoveOverlap: false,
      nameTextStyle: { fontSize: 46, fontFamily: FONT, color: '#000' } },
    { type: 'value', min: 21, max: 24.5, inverse: true, position: 'left',
      axisLine: { show: false, onZero: false },
      axisTick: { show: true, inside: false, customValues: yMinor, length: 9, lineStyle: { color: '#000', width: 3 } },
      axisLabel: { show: false }, splitLine: { show: false } }
  ],
  series: series,
  graphic: [
    { type: 'text', left: 162, top: 51, silent: true, style: { text: notes[0], font: '28px ' + FONT, fill: '#000', lineHeight: 31 } },
    { type: 'text', left: 397, top: 51, silent: true, style: { text: notes[1], font: '28px ' + FONT, fill: '#000', lineHeight: 31 } },
    { type: 'text', left: 707, top: 35, silent: true, style: { text: notes[2], font: '28px ' + FONT, fill: '#000', lineHeight: 30 } },
    { type: 'text', left: 533, top: 267, silent: true, style: { text: bandNames.join('\n'), font: '33px ' + FONT, fill: '#000', lineHeight: 34.5 } }
  ]
});
</script>
</body>
</html>
